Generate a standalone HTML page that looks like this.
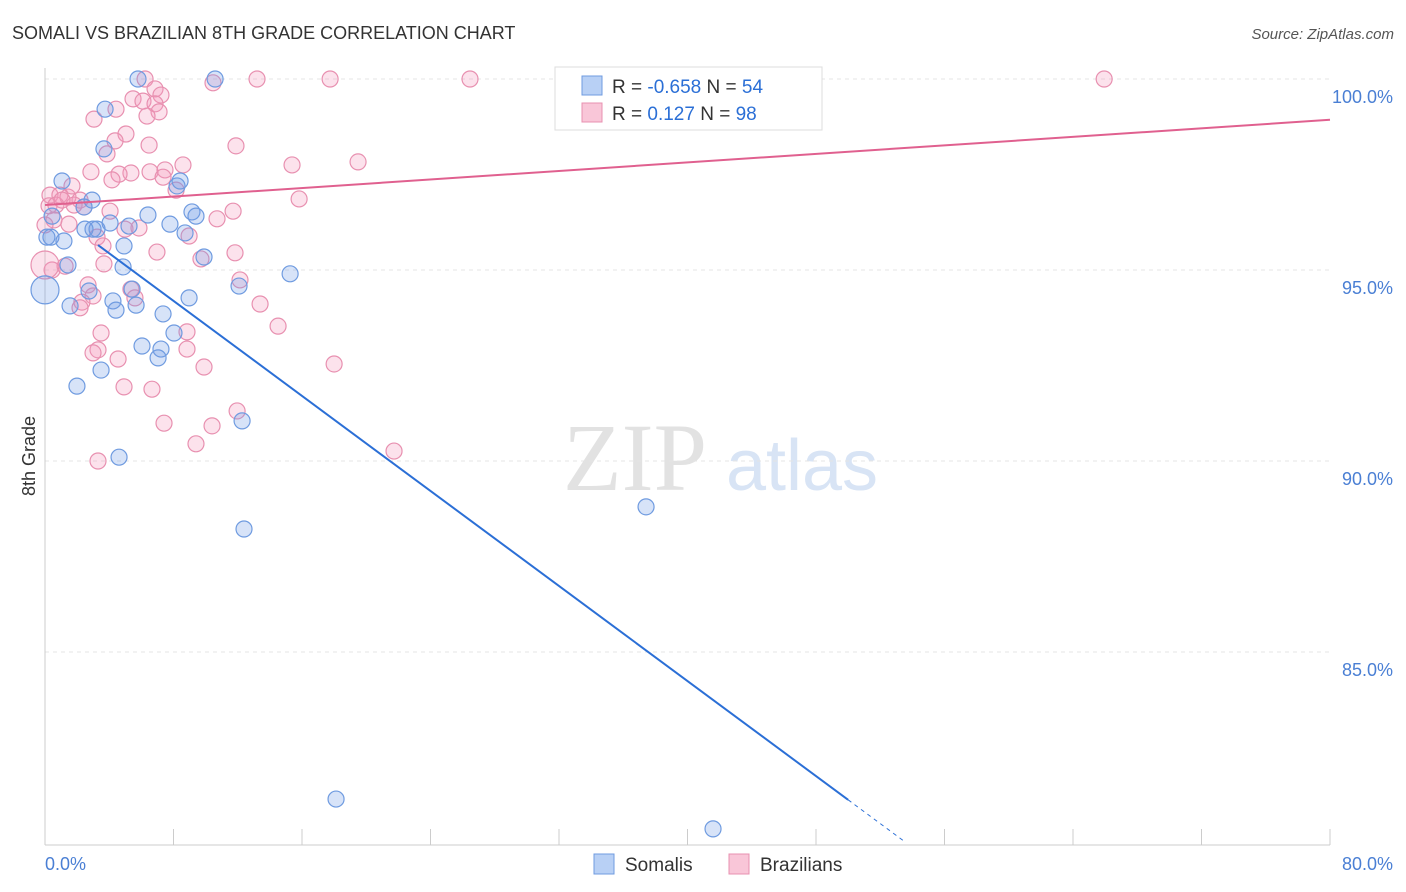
<!DOCTYPE html>
<html><head><meta charset="utf-8"><style>
body{margin:0;background:#fff;font-family:"Liberation Sans",sans-serif}
svg{display:block}
</style></head><body>
<svg width="1406" height="892" id="chart">
<text x="12" y="39" font-size="18" fill="#333">SOMALI VS BRAZILIAN 8TH GRADE CORRELATION CHART</text>
<text x="1394" y="39" font-size="15" fill="#555" font-style="italic" text-anchor="end">Source: ZipAtlas.com</text>
<g><text x="635" y="490" font-size="96" fill="#e2e2e2" font-family="Liberation Serif" text-anchor="middle">ZIP</text><text x="802" y="490" font-size="72" fill="#d8e4f5" text-anchor="middle">atlas</text></g>
<g id="grid"></g>
<g id="axes"></g>
<g id="marks"></g>
<g id="lines"></g>
<text x="35" y="456" font-size="18" fill="#333" text-anchor="middle" transform="rotate(-90 35 456)">8th Grade</text>
<g>
<rect x="555" y="67" width="267" height="63" fill="#fff" stroke="#ddd"/>
<rect x="582" y="76" width="20" height="19" fill="#b8d0f5" stroke="#6f9be0"/>
<rect x="582" y="103" width="20" height="19" fill="#f9c6d8" stroke="#e890b0"/>
<text x="612" y="93" font-size="19" fill="#333">R = <tspan fill="#2b6fd6">-0.658</tspan>   N = <tspan fill="#2b6fd6">54</tspan></text>
<text x="612" y="120" font-size="19" fill="#333">R =   <tspan fill="#2b6fd6">0.127</tspan>   N = <tspan fill="#2b6fd6">98</tspan></text>
</g>
<g>
<rect x="594" y="854" width="20" height="20" fill="#b8d0f5" stroke="#6f9be0"/>
<text x="625" y="871" font-size="19" fill="#333">Somalis</text>
<rect x="729" y="854" width="20" height="20" fill="#f9c6d8" stroke="#e890b0"/>
<text x="760" y="871" font-size="19" fill="#333">Brazilians</text>
</g>
</svg>
<script>
const blueX=[5.79,10.59,3.74,3.67,1.06,8.22,8.41,2.93,6.41,9.15,9.40,2.43,0.44,4.05,5.23,7.78,8.72,3.24,2.99,0.37,1.18,4.92,4.86,1.43,9.90,15.26,12.08,5.42,2.74,4.23,4.42,1.56,5.67,8.97,7.35,8.03,6.04,7.22,7.04,3.49,1.99,12.27,4.61,12.39,37.42,18.12,41.59,0,0.12,2.49];
const blueY=[100,100,99.21,98.17,97.33,97.20,97.33,96.83,96.44,96.52,96.41,96.65,96.41,96.23,96.15,96.20,95.97,96.07,96.07,95.86,95.76,95.63,95.08,95.13,95.34,94.90,94.58,94.50,94.45,94.19,93.95,94.06,94.08,94.27,93.85,93.35,93.01,92.93,92.70,92.38,91.96,91.05,90.10,88.22,88.80,81.15,80.37,94.48,95.86,96.07];
const pinkX=[6.23,13.20,17.75,26.46,65.94,10.46,6.85,5.48,7.22,6.10,6.85,4.42,7.10,6.35,3.05,5.04,4.36,11.89,6.48,3.86,8.59,15.38,19.49,2.86,5.35,4.61,6.54,7.47,4.17,7.35,8.16,0.31,0.93,1.43,2.18,15.82,0.25,0.68,1.81,2.43,11.71,10.71,0.56,1.49,3.24,4.98,5.85,8.97,3.61,6.97,11.83,9.71,3.67,0.44,1.25,12.14,2.68,5.35,2.99,5.60,13.39,2.30,2.18,14.51,3.49,8.84,3.30,2.99,8.84,4.55,9.90,18.00,4.92,6.66,11.96,7.41,10.40,9.40,3.30,21.73,0,0,1.68,4.05,1.06];
const pinkY=[100,100,100,100,100,99.90,99.74,99.48,99.58,99.42,99.35,99.21,99.14,99.03,98.95,98.56,98.38,98.25,98.27,98.04,97.75,97.75,97.83,97.57,97.54,97.51,97.57,97.62,97.36,97.43,97.09,96.96,96.96,96.91,96.83,96.86,96.68,96.70,96.70,96.65,96.54,96.34,96.31,96.20,95.86,96.07,96.10,95.89,95.63,95.47,95.45,95.29,95.16,95.00,95.10,94.74,94.61,94.50,94.32,94.27,94.11,94.16,94.01,93.53,93.35,93.38,92.91,92.83,92.93,92.67,92.46,92.54,91.94,91.88,91.31,90.99,90.92,90.45,90.00,90.26,95.13,96.18,97.20,96.54,96.83];
const yTicks=[100,95,90,85];
const yTickLabels=["100.0%","95.0%","90.0%","85.0%"];
const blueTrend=[96.68,-0.311];
const pinkTrend=[96.70,0.0279];
const NS="http://www.w3.org/2000/svg";
const sx=v=>45+v*(1285/80), sy=v=>79+(100-v)*38.2;
function mk(t,a,p){const e=document.createElementNS(NS,t);for(const k in a)e.setAttribute(k,a[k]);p.appendChild(e);return e;}
const grid=document.getElementById('grid'),axes=document.getElementById('axes'),marks=document.getElementById('marks'),lines=document.getElementById('lines');
yTicks.forEach((t,i)=>{
 const l=mk('line',{x1:45,x2:1330,y1:sy(t),y2:sy(t),stroke:'#e4e4e4','stroke-dasharray':'4,4'},grid);
 
 
 const tx=mk('text',{x:1393,y:sy(t)+24,'font-size':18,fill:'#4a7fd4','text-anchor':'end'},axes);
 tx.textContent=yTickLabels[i];
 
 
});
const ya=mk('line',{x1:45,x2:45,y1:68,y2:845,stroke:'#ccc'},axes);


const xa=mk('line',{x1:45,x2:1330,y1:845,y2:845,stroke:'#ccc'},axes);


for(let i=0;i<=10;i++){const tk=mk('line',{x1:sx(i*8),x2:sx(i*8),y1:829,y2:845,stroke:'#ccc'},axes);
 
 }
[["0.0%",45,'start'],["80.0%",1393,'end']].forEach(a=>{const t=mk('text',{x:a[1],y:870,'font-size':18,fill:'#4a7fd4','text-anchor':a[2]},axes);t.textContent=a[0];
 
 });
function pts(X,Y,fill,stroke,name){X.forEach((x,i)=>{const big=(x===0&&(Y[i]===94.48||Y[i]===95.13));
 const c=mk('circle',{cx:sx(x),cy:sy(Y[i]),r:big?14:8,fill:fill,stroke:stroke,'stroke-width':1.2},marks);
 
 });}
pts(pinkX,pinkY,'rgba(244,150,186,0.28)','#e890b0','brazilian-point');
pts(blueX,blueY,'rgba(110,155,230,0.28)','#6f9be0','somali-point');
const bf=x=>blueTrend[0]+blueTrend[1]*x, pf=x=>pinkTrend[0]+pinkTrend[1]*x;
const b1=mk('line',{x1:sx(3.3),y1:sy(bf(3.3)),x2:sx(50),y2:sy(bf(50)),stroke:'#2b6fd6','stroke-width':2},lines);


const b2=mk('line',{x1:sx(50),y1:sy(bf(50)),x2:sx(53.5),y2:sy(bf(53.5)),stroke:'#2b6fd6','stroke-width':1,'stroke-dasharray':'4,4'},lines);


const p1=mk('line',{x1:sx(0),y1:sy(pf(0)),x2:sx(80),y2:sy(pf(80)),stroke:'#e0608f','stroke-width':2},lines);


</script>
</body></html>
